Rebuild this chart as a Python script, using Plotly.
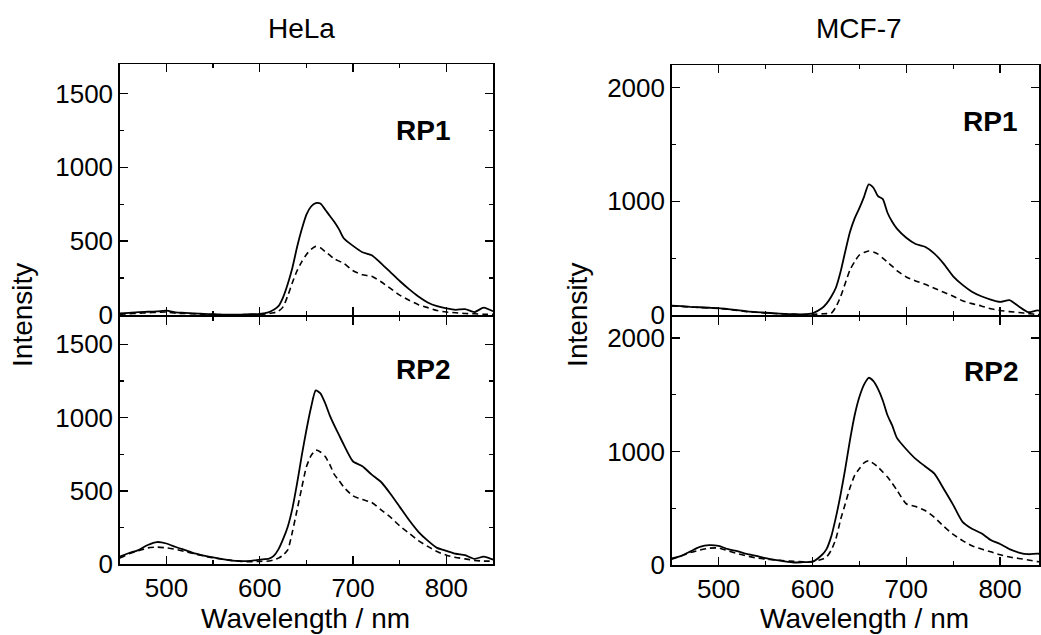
import plotly.graph_objects as go

# ---------------- data ----------------
wavelength = [450, 460, 470, 480, 490, 500, 510, 520, 530, 540, 550, 560, 570, 580, 590, 600, 610,
              615, 620, 625, 630, 635, 640, 645, 650, 655, 660, 665, 670, 675, 680, 685, 690,
              700, 710, 720, 730, 740, 750, 760, 770, 780, 790, 800, 810, 820, 830, 840, 850]

hela_rp1_solid = [10, 15, 20, 22, 25, 30, 18, 15, 10, 8, 5, 3, 2, 3, 5, 8, 20,
                  35, 60, 120, 210, 320, 460, 580, 680, 735, 758, 755, 715, 672, 630, 580, 520,
                  468, 425, 405, 350, 290, 230, 175, 125, 85, 60, 45, 35, 40, 20, 50, 25]
hela_rp1_dash = [5, 8, 12, 15, 18, 20, 12, 10, 8, 5, 3, 2, 1, 2, 3, 5, 10,
                 15, 25, 55, 130, 220, 300, 360, 410, 445, 465, 455, 430, 405, 380, 365, 350,
                 300, 272, 262, 225, 180, 135, 100, 70, 50, 30, 20, 15, 10, 8, 5, 5]

hela_rp2_solid = [50, 75, 95, 130, 150, 140, 116, 95, 73, 58, 45, 33, 23, 20, 22, 30, 36,
                  55, 100, 170, 255, 380, 550, 740, 915, 1070, 1185, 1165, 1100, 1015, 945, 880, 815,
                  700, 668, 610, 560, 480, 390, 300, 220, 160, 110, 90, 70, 60, 35, 50, 30]
hela_rp2_dash = [40, 70, 90, 110, 115, 110, 100, 85, 70, 55, 42, 33, 25, 18, 15, 18, 20,
                 28, 40, 60, 96, 220, 369, 520, 664, 740, 778, 765, 735, 680, 610, 570, 525,
                 465, 440, 420, 370, 320, 260, 210, 160, 120, 85, 60, 45, 35, 25, 20, 20]

mcf7_rp1_solid = [82, 78, 72, 68, 64, 60, 52, 42, 32, 26, 20, 15, 10, 7, 6, 15, 59,
                  100, 161, 240, 380, 560, 730, 850, 940, 1040, 1150, 1120, 1045, 1020, 900, 820, 760,
                  680, 625, 600, 540, 450, 340, 265, 205, 165, 135, 115, 130, 75, 25, 40, 15]
mcf7_rp1_dash = [80, 76, 70, 66, 62, 58, 50, 40, 30, 24, 18, 13, 9, 6, 4, 5, 10,
                 12, 15, 70, 161, 280, 396, 470, 528, 550, 563, 555, 535, 500, 465, 430, 390,
                 335, 300, 270, 235, 200, 165, 125, 100, 80, 55, 40, 30, 22, 12, 5, 3]

mcf7_rp2_solid = [58, 80, 120, 160, 175, 168, 140, 122, 98, 80, 60, 45, 32, 22, 25, 29, 88,
                  140, 250, 420, 620, 850, 1100, 1320, 1480, 1590, 1650, 1620, 1550, 1450, 1320, 1230, 1120,
                  1020, 935, 870, 805, 670, 530, 380, 320, 280, 220, 185, 140, 110, 95, 100, 90]
mcf7_rp2_dash = [50, 80, 110, 132, 148, 150, 125, 100, 80, 62, 52, 45, 38, 32, 29, 30, 50,
                 70, 130, 230, 400, 540, 680, 790, 848, 900, 920, 895, 862, 820, 775, 720, 660,
                 540, 515, 480, 420, 340, 270, 215, 170, 140, 117, 90, 70, 58, 44, 30, 25]

cell_titles = ["HeLa", "MCF-7"]
probe_labels = ["RP1", "RP2"]
x_title = "Wavelength / nm"
y_title = "Intensity"

# ---------------- figure ----------------
W, H = 1041, 635          # reference frame used for positioning
FIG_H = 650               # rendered height (page is scaled to 635 tall)
FONT = "Liberation Sans, Arial, Helvetica, sans-serif"
FS = 26
FT = 28

def px_x(p):
    return p / W

def px_y(p):
    return 1 - p / H

fig = go.Figure()

series = [
    ("x", "y", hela_rp1_solid, hela_rp1_dash),
    ("x2", "y2", hela_rp2_solid, hela_rp2_dash),
    ("x3", "y3", mcf7_rp1_solid, mcf7_rp1_dash),
    ("x4", "y4", mcf7_rp2_solid, mcf7_rp2_dash),
]
for xa, ya, s, d in series:
    fig.add_trace(go.Scatter(x=wavelength, y=d, xaxis=xa, yaxis=ya, mode="lines",
                             line=dict(color="black", width=1.6, dash="6px,4px",
                                       shape="spline", smoothing=0.6),
                             showlegend=False, hoverinfo="skip"))
    fig.add_trace(go.Scatter(x=wavelength, y=s, xaxis=xa, yaxis=ya, mode="lines",
                             line=dict(color="black", width=1.8, shape="spline", smoothing=0.6),
                             showlegend=False, hoverinfo="skip"))

left_dom = [px_x(120), px_x(494)]
right_dom = [px_x(673), 1.0]
top_dom_l = [px_y(315), px_y(64)]
bot_dom_l = [px_y(564), px_y(316.5)]
top_dom_r = [px_y(315), px_y(65)]
bot_dom_r = [px_y(565), px_y(316.5)]

common = dict(showline=True, linecolor="black", linewidth=1.5, mirror="ticks",
              ticks="inside", ticklen=8, tickwidth=1.5, tickcolor="black",
              showgrid=False, zeroline=False,
              tickfont=dict(family=FONT, size=FS, color="black"))

def xax(dom, anchor, labels, rng):
    return dict(common, domain=dom, anchor=anchor, range=rng, dtick=100, tick0=0,
                showticklabels=labels,
                minor=dict(ticks="inside", ticklen=4, tickwidth=1.2, tickcolor="black", dtick=50))

def yax(dom, anchor, rng, dt):
    return dict(common, domain=dom, anchor=anchor, range=rng, dtick=dt, tick0=0,
                minor=dict(ticks="inside", ticklen=4, tickwidth=1.2, tickcolor="black", dtick=dt / 2))

r_end = 450 + (W - 673) / 0.94

fig.update_layout(
    xaxis=xax(left_dom, "y", False, [450, 850]),
    yaxis=yax(top_dom_l, "x", [0, 1700], 500),
    xaxis2=xax(left_dom, "y2", True, [450, 850]),
    yaxis2=yax(bot_dom_l, "x2", [0, 1690], 500),
    xaxis3=xax(right_dom, "y3", False, [450, r_end]),
    yaxis3=yax(top_dom_r, "x3", [0, 2200], 1000),
    xaxis4=xax(right_dom, "y4", True, [450, r_end]),
    yaxis4=yax(bot_dom_r, "x4", [0, 2190], 1000),
)

annotations = []
# column titles
for label, cx in zip(cell_titles, [302, 861]):
    annotations.append(dict(text=label, x=px_x(cx), y=px_y(28), xref="paper", yref="paper",
                            xanchor="center", yanchor="middle",
                            showarrow=False, font=dict(family=FONT, size=FT, color="black")))
# axis titles
for cx in [306, 866]:
    annotations.append(dict(text=x_title, x=px_x(cx), y=px_y(618), xref="paper", yref="paper",
                            xanchor="center", yanchor="middle",
                            showarrow=False, font=dict(family=FONT, size=FT, color="black")))
for cx in [22, 578]:
    annotations.append(dict(text=y_title, x=px_x(cx), y=px_y(315), xref="paper", yref="paper",
                            xanchor="center", yanchor="middle",
                            textangle=-90, showarrow=False,
                            font=dict(family=FONT, size=FT, color="black")))
# probe labels
probe_pos = [("x", "y", 775, 1247, probe_labels[0]),
             ("x2", "y2", 775, 1330, probe_labels[1]),
             ("x3", "y3", 789, 1700, probe_labels[0]),
             ("x4", "y4", 790, 1702, probe_labels[1])]
for xa, ya, px_, py_, lab in probe_pos:
    annotations.append(dict(text="<b>" + lab + "</b>", x=px_, y=py_, xref=xa, yref=ya,
                            xanchor="center", yanchor="middle",
                            showarrow=False, font=dict(family=FONT, size=FT, color="black")))

fig.update_layout(
    annotations=annotations,
    width=W, height=FIG_H, autosize=False,
    margin=dict(l=0, r=0, t=0, b=0),
    paper_bgcolor="white", plot_bgcolor="white",
    font=dict(family=FONT, color="black"),
)

post = ("document.documentElement.style.margin='0';"
        "document.body.style.margin='0';"
        "document.body.style.overflow='hidden';"
        "document.documentElement.style.overflow='hidden';"
        "var gd=document.getElementById('{plot_id}');"
        "gd.style.position='fixed';gd.style.top='0px';gd.style.left='0px';")

fig.write_html("out.html", config={"displayModeBar": False, "staticPlot": True},
               post_script=post)
